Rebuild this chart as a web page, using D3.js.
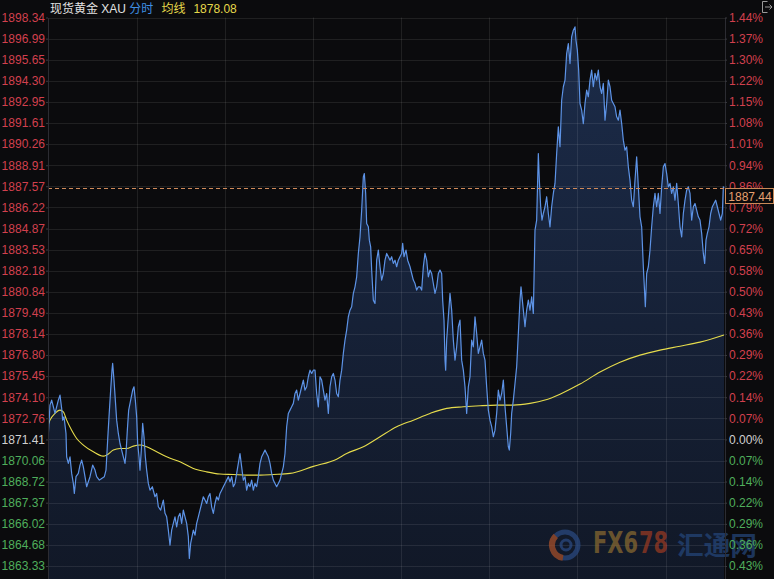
<!DOCTYPE html>
<html><head><meta charset="utf-8">
<script src="https://cdn.jsdelivr.net/npm/d3@7"></script>
<style>html,body{margin:0;padding:0;background:#0b0b0d;}svg{display:block}</style>
</head><body>
<svg id="c" width="774" height="579"></svg>
<script>
// ---------- data ----------
const basePrice = 1871.41;
const lastPrice = 1887.44;
const avgLast = 1878.08;
const priceTicks = [1898.34,1896.99,1895.65,1894.30,1892.95,1891.61,1890.26,1888.91,1887.57,1886.22,1884.87,1883.53,1882.18,1880.84,1879.49,1878.14,1876.80,1875.45,1874.10,1872.76,1871.41,1870.06,1868.72,1867.37,1866.02,1864.68,1863.33];
const pctLabels = ["1.44%","1.37%","1.30%","1.22%","1.15%","1.08%","1.01%","0.94%","0.86%","0.79%","0.72%","0.65%","0.58%","0.50%","0.43%","0.36%","0.29%","0.22%","0.14%","0.07%","0.00%","0.07%","0.14%","0.22%","0.29%","0.36%","0.43%"];
const timeEnd = 2028;
const gridTimes = [266,530,794,1059,1323,1587,1854];

const timeIndex = [0,6,11,21,31,36,41,44,48,54,56,61,66,71,76,79,84,91,96,101,106,111,116,121,126,134,141,146,154,161,169,174,179,183,188,192,194,198,202,206,211,216,221,226,231,234,238,242,248,254,258,262,266,269,273,276,280,284,288,292,296,301,306,313,321,326,331,338,346,351,356,361,366,371,376,381,386,391,396,401,406,411,416,421,424,428,432,436,441,446,451,456,461,466,471,476,481,486,491,496,501,506,511,516,521,526,531,536,541,546,551,556,561,566,571,576,581,586,591,596,601,606,611,616,621,626,631,636,641,646,651,656,661,666,671,676,681,686,691,696,701,706,711,716,721,726,
731,736,741,746,751,756,761,766,771,776,781,786,791,796,801,806,811,816,821,826,831,836,841,846,851,856,861,866,871,876,881,886,891,896,901,906,911,916,921,926,931,936,941,946,949,953,956,961,964,968,971,976,981,986,991,996,1001,1006,1011,1016,1021,1026,1031,1036,1041,1046,1051,1056,1061,1064,1068,1074,1079,1086,1091,1096,1101,1106,1111,1116,1121,1126,1131,1136,1141,1146,1151,1156,1161,1166,1171,1176,1181,1184,1188,1191,1193,1196,1201,1206,1211,1216,1221,1226,1231,1236,1241,1246,1251,1256,1261,1266,1271,1276,1281,1286,1291,1296,1301,1306,1311,1316,1321,1326,1331,1336,1341,1346,1351,1356,1361,1366,1371,1376,1381,1384,1388,1391,1396,1401,1406,1409,1412,1416,1419,1424,1431,1436,1441,
1446,1451,1456,1461,1466,1471,1474,1478,1482,1486,1491,1496,1501,1506,1511,1516,1521,1526,1531,1536,1541,1546,1551,1556,1561,1566,1571,1576,1581,1584,1588,1592,1596,1601,1606,1611,1616,1621,1626,1631,1636,1641,1646,1651,1656,1661,1666,1671,1676,1681,1686,1691,1696,1701,1706,1711,1716,1721,1726,1731,1736,1741,1746,1751,1756,1761,1766,1771,1776,1781,1786,1789,1792,1796,1801,1806,1811,1816,1821,1826,1831,1836,1841,1846,1851,1856,1861,1866,1871,1876,1881,1886,1891,1896,1901,1906,1911,1916,1921,1926,1931,1936,1941,1946,1951,1956,1961,1966,1970,1974,1978,1983,1988,1993,1998,2003,2008,2013,2018,2023,2026,2028];

const prices = [1871.37,1873.60,1873.92,1873.07,1873.92,1874.24,1873.39,1872.64,1872.85,1871.79,1870.30,1869.88,1870.30,1869.24,1868.60,1867.96,1869.03,1869.24,1869.77,1870.09,1869.66,1869.03,1868.39,1868.71,1869.03,1869.77,1869.45,1869.03,1868.81,1868.92,1869.03,1869.45,1871.37,1872.85,1874.56,1875.83,1876.26,1875.19,1873.92,1872.64,1871.79,1871.15,1870.73,1870.30,1869.88,1870.51,1872.00,1873.28,1873.92,1874.56,1874.77,1873.92,1872.85,1871.15,1870.30,1869.45,1870.73,1872.43,1871.58,1870.30,1869.45,1868.60,1868.17,1868.39,1867.75,1867.96,1867.11,1866.90,1867.54,1866.69,1866.47,1865.62,1864.66,1865.62,1866.05,1866.47,1865.83,1866.47,1866.69,1866.05,1866.90,1866.47,1866.05,1865.20,1863.81,1864.77,1865.20,1865.62,1865.30,1866.05,1866.47,1866.90,1867.32,1867.75,1867.54,1867.32,1867.75,1867.96,1867.11,1866.69,1867.32,1867.75,1867.54,1867.96,1868.17,1868.39,1868.60,1868.81,1869.03,1868.71,1869.03,1868.39,1868.60,1869.24,1869.88,1870.51,1869.66,1868.81,1869.03,1868.17,1868.60,1868.39,1868.81,1868.17,1868.60,1868.39,1869.03,1869.88,1870.30,1870.51,1870.73,1870.51,1870.30,1869.88,1869.24,1868.81,1868.60,1868.39,1868.60,1868.81,1869.24,1869.66,1870.51,1872.22,1873.07,1873.28,
1873.49,1873.71,1874.34,1874.56,1873.92,1874.34,1874.77,1875.20,1874.56,1874.77,1875.41,1875.83,1875.62,1875.83,1875.83,1874.34,1873.49,1875.41,1875.20,1874.56,1873.92,1874.34,1873.07,1874.77,1875.41,1875.62,1875.20,1874.34,1874.13,1875.20,1875.83,1876.90,1877.75,1878.39,1879.24,1879.66,1879.88,1880.73,1881.15,1881.79,1883.28,1884.34,1886.04,1888.17,1888.38,1887.11,1885.19,1884.98,1884.13,1883.70,1882.22,1880.30,1880.09,1882.85,1883.49,1882.43,1881.58,1882.00,1882.85,1883.28,1883.07,1882.85,1883.07,1882.64,1882.85,1882.43,1882.85,1883.07,1883.28,1883.92,1883.07,1883.49,1882.85,1882.43,1882.00,1881.58,1881.36,1880.94,1881.15,1881.15,1880.94,1882.43,1883.28,1882.85,1881.79,1882.22,1882.00,1881.36,1880.73,1881.15,1882.00,1882.22,1882.00,1880.30,1879.02,1876.47,1875.83,1877.75,1879.24,1880.73,1879.66,1877.75,1876.47,1877.32,1878.60,1879.02,1876.47,1875.83,1874.77,1873.07,1874.77,1875.41,1877.75,1877.32,1879.24,1878.17,1876.90,1877.32,1877.75,1876.90,1876.47,1874.77,1873.28,1872.64,1872.22,1871.58,1872.00,1873.07,1874.56,1873.92,1874.34,1875.20,1873.49,1872.22,1870.94,1870.73,1871.79,1873.07,1873.92,1874.98,1876.05,1877.32,1878.60,1880.30,1881.15,1880.09,1878.60,1879.66,1880.30,
1879.66,1880.51,1879.45,1884.77,1885.41,1889.66,1887.96,1886.26,1885.41,1885.83,1886.26,1886.90,1885.83,1884.98,1886.26,1887.11,1887.75,1889.66,1891.36,1890.09,1893.06,1893.92,1894.34,1896.04,1896.68,1895.40,1897.11,1897.53,1897.74,1896.89,1896.26,1894.98,1892.85,1892.43,1891.57,1892.85,1893.70,1893.28,1894.34,1894.98,1893.92,1894.77,1894.34,1894.98,1893.92,1893.49,1894.13,1891.79,1892.85,1894.34,1893.92,1893.06,1892.85,1892.64,1892.00,1891.79,1892.43,1891.57,1890.51,1889.87,1890.09,1888.81,1887.96,1886.68,1886.26,1887.96,1889.45,1887.53,1885.62,1884.98,1882.43,1881.15,1879.88,1882.00,1882.43,1883.49,1884.98,1886.26,1887.11,1886.26,1887.11,1885.83,1887.53,1888.81,1889.02,1888.38,1887.53,1887.75,1887.11,1887.53,1886.68,1887.75,1886.47,1884.98,1884.34,1885.83,1886.68,1887.32,1887.53,1887.11,1885.41,1886.26,1886.47,1886.04,1885.62,1885.41,1884.56,1883.28,1882.64,1884.13,1884.56,1884.98,1885.83,1886.26,1886.47,1886.68,1886.26,1885.83,1885.41,1885.83,1887.53,1887.44];

const avgTime = [0,6,21,36,46,56,71,86,106,136,166,176,196,216,236,256,276,296,326,356,396,436,476,516,556,596,636,676,726,796,866,896,946,996,1046,1096,1146,1196,1246,1296,1346,1396,1446,1491,1536,1596,1656,1716,1776,1836,1896,1956,2028];
const avgPrices = [1872.30,1872.64,1873.07,1873.28,1873.17,1872.64,1872.00,1871.47,1871.05,1870.62,1870.34,1870.41,1870.73,1870.83,1870.83,1870.98,1871.05,1870.94,1870.62,1870.30,1869.98,1869.56,1869.34,1869.20,1869.17,1869.13,1869.13,1869.17,1869.24,1869.69,1870.15,1870.51,1870.94,1871.58,1872.22,1872.64,1873.07,1873.39,1873.49,1873.56,1873.60,1873.60,1873.71,1873.92,1874.30,1874.94,1875.71,1876.34,1876.79,1877.11,1877.36,1877.62,1878.08];

// ---------- layout ----------
const L = 48, R = 724, AX = 725, T = 17.5, B = 579;
const FONT = '"Liberation Sans", Arial, "Noto Sans CJK SC", sans-serif';
const RED = '#d2404e', GREEN = '#4fae5c', WHITE = '#d0d0d0';

const svg = d3.select('#c');
svg.append('rect').attr('width',774).attr('height',579).attr('fill','#0b0b0d');

const x = d3.scaleLinear().domain([0, timeEnd]).range([L, R]);
const y = d3.scaleLinear().domain([1862.50, 1898.34]).range([B, T]);

const pts = timeIndex.map((t,i)=>({t, p:prices[i]}));
const avg = avgTime.map((t,i)=>({t, p:avgPrices[i]}));

const defs = svg.append('defs');
const grad = defs.append('linearGradient').attr('id','ag').attr('gradientUnits','userSpaceOnUse')
  .attr('x1',0).attr('y1',T).attr('x2',0).attr('y2',B);
grad.append('stop').attr('offset','0%').attr('stop-color','#1c2c4a');
grad.append('stop').attr('offset','100%').attr('stop-color','#111827');
defs.append('clipPath').attr('id','clip').append('rect').attr('x',L).attr('y',T-2).attr('width',AX-L).attr('height',B-T+2);

// area
svg.append('path').datum(pts).attr('clip-path','url(#clip)')
  .attr('fill','url(#ag)')
  .attr('d', d3.area().x(d=>x(d.t)).y0(B).y1(d=>y(d.p)));

// grid
const grid = svg.append('g');
grid.selectAll('line.h').data(priceTicks).join('line')
  .attr('x1',L).attr('x2',AX).attr('y1',d=>Math.round(y(d))+0.5).attr('y2',d=>Math.round(y(d))+0.5)
  .attr('stroke','rgba(255,255,255,0.085)');
grid.selectAll('line.v').data(gridTimes).join('line')
  .attr('x1',d=>Math.round(x(d))+0.5).attr('x2',d=>Math.round(x(d))+0.5).attr('y1',T).attr('y2',B)
  .attr('stroke','rgba(255,255,255,0.085)');

// watermark
const wm = svg.append('g').attr('opacity',0.72);
wm.append('circle').attr('cx',565).attr('cy',545).attr('r',13).attr('fill','none').attr('stroke','#2a4a82').attr('stroke-width',5);
wm.append('path').attr('d', d3.arc().innerRadius(10).outerRadius(16).startAngle(Math.PI*1.05).endAngle(Math.PI*1.75)()).attr('transform','translate(565,545)').attr('fill','#a8502a');
wm.append('circle').attr('cx',566).attr('cy',545).attr('r',5).attr('fill','none').attr('stroke','#2a4a82').attr('stroke-width',3);
const wmFont = '"Liberation Sans Narrow","DejaVu Sans Condensed",Arial,sans-serif';
wm.append('text').attr('x',593).attr('y',553).attr('font-family',wmFont).attr('font-weight','bold').attr('font-size',31)
  .attr('fill','#8a6a30').attr('textLength',45).attr('lengthAdjust','spacingAndGlyphs').text('FX6');
wm.append('text').attr('x',639).attr('y',553).attr('font-family',wmFont).attr('font-weight','bold').attr('font-size',31)
  .attr('fill','#9a3a22').attr('textLength',29).attr('lengthAdjust','spacingAndGlyphs').text('78');
wm.append('text').attr('x',677).attr('y',555).attr('font-family','"Noto Sans CJK SC",sans-serif').attr('font-weight','bold')
  .attr('font-size',26).attr('fill','#24467a').attr('textLength',80).attr('lengthAdjust','spacingAndGlyphs').text('汇通网');

// average line
svg.append('path').datum(avg).attr('clip-path','url(#clip)').attr('fill','none')
  .attr('stroke','#e6dc4c').attr('stroke-width',1.1)
  .attr('d', d3.line().x(d=>x(d.t)).y(d=>y(d.p)).curve(d3.curveMonotoneX));

// price line
svg.append('path').datum(pts).attr('clip-path','url(#clip)').attr('fill','none')
  .attr('stroke','#5d93e6').attr('stroke-width',1.2).attr('stroke-linejoin','round')
  .attr('d', d3.line().x(d=>x(d.t)).y(d=>y(d.p)));

// last price dashed line
const yL = Math.round(y(lastPrice))+0.5;
svg.append('line').attr('x1',L).attr('x2',AX).attr('y1',yL).attr('y2',yL)
  .attr('stroke','#d08a5a').attr('stroke-dasharray','4,3').attr('stroke-width',1);

// axes
const colorOf = d => d > basePrice + 1e-6 ? RED : (d < basePrice - 1e-6 ? GREEN : WHITE);
const ax = svg.append('g').attr('transform',`translate(${L},0)`)
  .call(d3.axisLeft(y).tickValues(priceTicks).tickFormat(d=>d.toFixed(2)).tickSizeInner(2).tickSizeOuter(0).tickPadding(1));
ax.attr('font-family',FONT).attr('font-size',12);
ax.select('.domain').attr('stroke','#2c2c32');
ax.selectAll('.tick line').attr('stroke','#3a3a40');
ax.selectAll('.tick text').attr('fill',d=>colorOf(d));

const ar = svg.append('g').attr('transform',`translate(${AX},0)`)
  .call(d3.axisRight(y).tickValues(priceTicks).tickFormat((d,i)=>pctLabels[i]).tickSizeInner(2).tickSizeOuter(0).tickPadding(2));
ar.attr('font-family',FONT).attr('font-size',12);
ar.select('.domain').attr('stroke','#2c2c32');
ar.selectAll('.tick line').attr('stroke','#3a3a40');
ar.selectAll('.tick text').attr('fill',d=>colorOf(d));

// last price box
svg.append('rect').attr('x',AX+0.5).attr('y',yL).attr('width',48).attr('height',15)
  .attr('fill','#0b0b0d').attr('stroke','#c98a58').attr('stroke-width',1);
svg.append('text').attr('x',AX+25).attr('y',yL+12).attr('text-anchor','middle')
  .attr('font-family',FONT).attr('font-size',12).attr('fill','#e6a070').text(lastPrice.toFixed(2));

// header
const hd = svg.append('text').attr('x',50).attr('y',12.5).attr('font-family',FONT).attr('font-size',12);
hd.append('tspan').attr('fill','#e2e2e2').attr('font-family','"Noto Sans CJK SC",sans-serif').text('现货黄金');
hd.append('tspan').attr('fill','#e2e2e2').text(' XAU ');
hd.append('tspan').attr('fill','#3f8fe2').attr('font-family','"Noto Sans CJK SC",sans-serif').text('分时');
hd.append('tspan').attr('fill','#e6d84a').attr('dx',8).attr('font-family','"Noto Sans CJK SC",sans-serif').text('均线');
hd.append('tspan').attr('fill','#e6d84a').attr('dx',8).text(avgLast.toFixed(2));

// top-right icon
const ic = svg.append('g').attr('stroke','#9a9a9a').attr('fill','none').attr('stroke-width',1);
ic.append('path').attr('d','M767.5,1.5 H762.5 V12.5 H767.5');
ic.append('path').attr('d','M765,7 H772 M769.5,4.5 L772,7 L769.5,9.5');
</script>
</body></html>
